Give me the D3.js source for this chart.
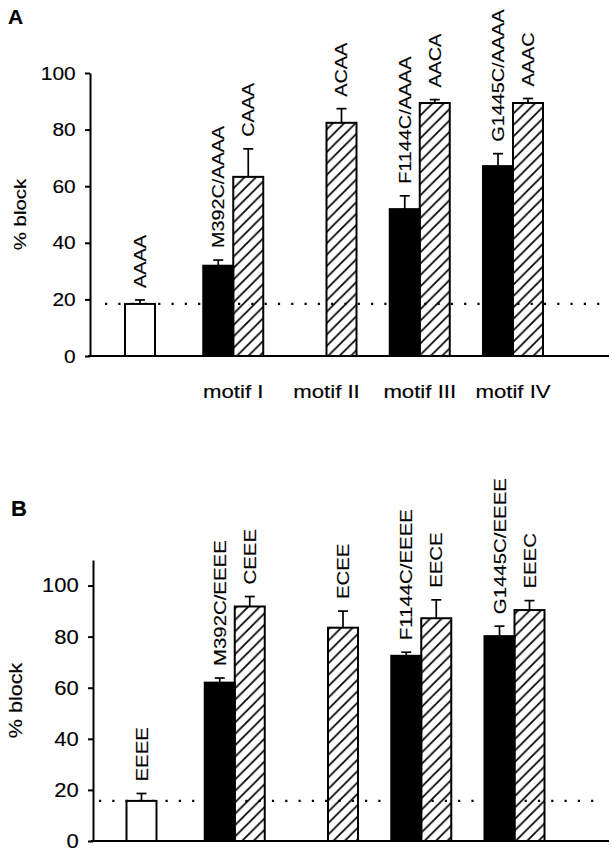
<!DOCTYPE html>
<html>
<head>
<meta charset="utf-8">
<script src="https://cdn.jsdelivr.net/npm/d3@7"></script>
<style>
  body { margin: 0; background: #fff; }
  svg { display: block; font-family: "Liberation Sans", Arial, sans-serif; }
  svg text { stroke: #000; stroke-width: 0.15px; fill: #000; }
</style>
</head>
<body>
<script>
// groups along the x axis (wild type + four motifs)
const groups = ['wt', 'I', 'II', 'III', 'IV']
const motifLabels = ['', 'motif I', 'motif II', 'motif III', 'motif IV']

// panel A
const labelsA = ['AAAA', 'M392C/AAAA', 'CAAA', 'ACAA', 'F1144C/AAAA', 'AACA', 'G1445C/AAAA', 'AAAC']
const groupOfA = ['wt', 'I', 'I', 'II', 'III', 'III', 'IV', 'IV']
const typeA = ['wt', 'mut', 'cys', 'cys', 'mut', 'cys', 'mut', 'cys']
const valuesA = [18.4, 31.9, 63.3, 82.4, 51.9, 89.4, 67.1, 89.4]
const errorsA = [1.4, 2.0, 9.9, 5.0, 4.7, 1.2, 4.4, 1.6]
const ticksA = [0, 20, 40, 60, 80, 100]

// panel B
const labelsB = ['EEEE', 'M392C/EEEE', 'CEEE', 'ECEE', 'F1144C/EEEE', 'EECE', 'G1445C/EEEE', 'EEEC']
const groupOfB = ['wt', 'I', 'I', 'II', 'III', 'III', 'IV', 'IV']
const typeB = ['wt', 'mut', 'cys', 'cys', 'mut', 'cys', 'mut', 'cys']
const valuesB = [15.7, 62.0, 91.8, 83.5, 72.5, 87.2, 80.2, 90.4]
const errorsB = [2.9, 1.8, 3.9, 6.5, 1.4, 7.2, 3.9, 3.7]
const ticksB = [0, 20, 40, 60, 80, 100]

const W = 612, H = 852, BAR_W = 30

const svg = d3.select('body').append('svg')
    .attr('width', W)
    .attr('height', H)

// hatch for the cysteine-only bars
const h = 11.4
svg.append('defs').append('pattern')
    .attr('id', 'hatch')
    .attr('patternUnits', 'userSpaceOnUse')
    .attr('width', h).attr('height', h)
    .append('path')
    .attr('d', `M${-h / 4},${h / 4} L${h / 4},${-h / 4} M0,${h} L${h},0 M${h * 0.75},${h * 1.25} L${h * 1.25},${h * 0.75}`)
    .attr('stroke', '#000')
    .attr('stroke-width', 1.7)

const fillFor = { wt: '#fff', mut: '#000', cys: 'url(#hatch)' }
const offset = d3.scaleOrdinal().domain(['wt', 'mut', 'cys']).range([-0.5, -1, 0])

function drawPanel(p) {
    const g = svg.append('g')
    const y = d3.scaleLinear().domain([0, p.yMax]).range([p.bottom, p.top])
    const x = d3.scalePoint().domain(groups).range(p.xRange)

    // panel letter
    g.append('text')
        .attr('x', p.letterX).attr('y', p.letterY)
        .attr('font-size', p.letterSize).attr('font-weight', 'bold')
        .text(p.letter)

    // control level
    g.append('line')
        .attr('x1', p.dotFrom).attr('x2', 600)
        .attr('y1', y(p.values[0])).attr('y2', y(p.values[0]))
        .attr('stroke', '#000')
        .attr('stroke-width', 2.2)
        .attr('stroke-dasharray', '2.2,11.1')

    const idx = d3.range(p.values.length)
    const left = i => x(p.groupOf[i]) + offset(p.types[i]) * BAR_W

    // error bars (upward only)
    const eb = g.append('g').selectAll('g').data(idx).join('g')
        .attr('stroke', '#000').attr('stroke-width', 1.7)
    eb.append('line')
        .attr('x1', i => left(i) + BAR_W / 2).attr('x2', i => left(i) + BAR_W / 2)
        .attr('y1', i => y(p.values[i])).attr('y2', i => y(p.values[i] + p.errors[i]))
    eb.append('line')
        .attr('x1', i => left(i) + BAR_W / 2 - 5).attr('x2', i => left(i) + BAR_W / 2 + 5)
        .attr('y1', i => y(p.values[i] + p.errors[i])).attr('y2', i => y(p.values[i] + p.errors[i]))

    g.append('g').selectAll('rect').data(idx).join('rect')
        .attr('x', left)
        .attr('width', BAR_W)
        .attr('y', i => y(p.values[i]))
        .attr('height', i => y(0) - y(p.values[i]))
        .attr('fill', i => fillFor[p.types[i]])
        .attr('stroke', '#000')
        .attr('stroke-width', 2)

    // construct names above bars
    g.append('g').selectAll('text').data(idx).join('text')
        .attr('transform', i => `translate(${left(i) + BAR_W / 2},${y(p.values[i] + p.errors[i]) - 12}) rotate(-90) scale(1.2,1)`)
        .attr('dy', '0.36em')
        .attr('font-size', p.labelSize)
        .text(i => p.labels[i])

    // y axis
    const ax = g.append('g')
        .attr('transform', `translate(${p.axisX},0)`)
        .call(d3.axisLeft(y).tickValues(p.ticks).tickSize(5).tickSizeOuter(0).tickPadding(8))
    ax.select('.domain').attr('stroke-width', 2)
    ax.selectAll('.tick line').attr('stroke-width', 2)
    ax.selectAll('.tick text')
        .attr('font-size', p.tickSize)
        .attr('font-family', '"Liberation Sans", Arial, sans-serif')
        .attr('transform', 'scale(1.1,1)')

    // x axis line
    g.append('line')
        .attr('x1', p.axisX - 2).attr('x2', 609)
        .attr('y1', y(0)).attr('y2', y(0))
        .attr('stroke', '#000').attr('stroke-width', 2)

    g.append('text')
        .attr('transform', `translate(${p.titleX},${(p.top + p.bottom) / 2}) rotate(-90) scale(1.2,1)`)
        .attr('text-anchor', 'middle')
        .attr('font-size', p.titleSize)
        .text('% block')

    if (p.motifs) {
        g.append('g').selectAll('text').data(groups).join('text')
            .attr('transform', d => `translate(${x(d)},${p.motifY}) scale(1.2,1)`)
            .attr('text-anchor', 'middle')
            .attr('font-size', 18.5)
            .text((d, i) => motifLabels[i])
    }
}

drawPanel({
    letter: 'A', letterX: 8, letterY: 23.5, letterSize: 21,
    top: 73, bottom: 356, yMax: 100, axisX: 90, xRange: [140, 513],
    dotFrom: 105, titleX: 26, titleSize: 17, tickSize: 19, labelSize: 16.5,
    labels: labelsA, groupOf: groupOfA, types: typeA, values: valuesA, errors: errorsA,
    ticks: ticksA, motifs: true, motifY: 398
})

drawPanel({
    letter: 'B', letterX: 11, letterY: 516, letterSize: 22,
    top: 560, bottom: 841, yMax: 110, axisX: 93, xRange: [141.5, 514.5],
    dotFrom: 99, titleX: 22, titleSize: 18, tickSize: 20, labelSize: 17,
    labels: labelsB, groupOf: groupOfB, types: typeB, values: valuesB, errors: errorsB,
    ticks: ticksB, motifs: false
})
</script>
</body>
</html>
